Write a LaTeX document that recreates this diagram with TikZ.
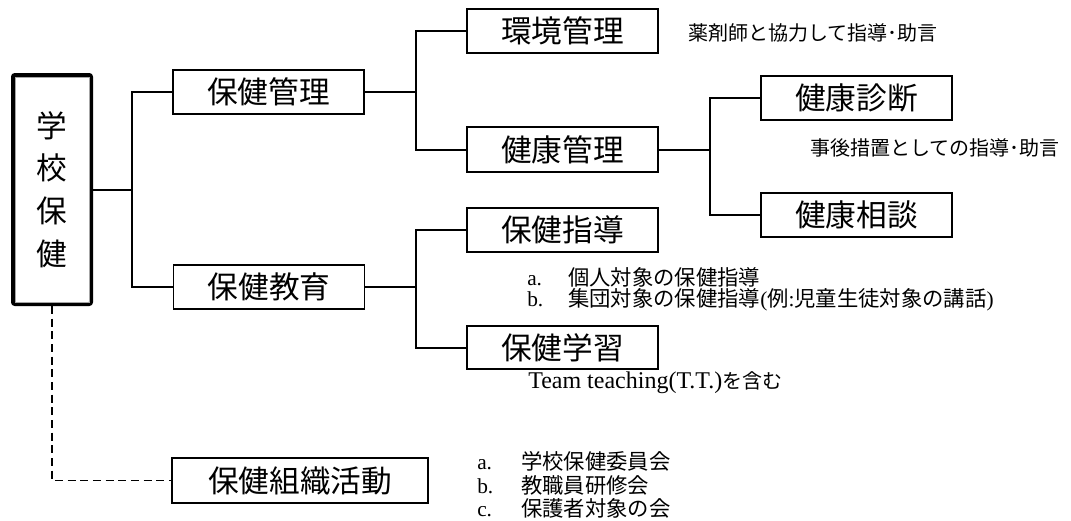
\documentclass[tikz,border=0pt]{standalone}
\usepackage{fontspec}
\setmainfont{Liberation Serif}
\newfontfamily\cjk{Noto Sans CJK JP}
\begin{document}
\begin{tikzpicture}[x=0.75pt,y=-0.75pt,
  box/.style={draw, line width=1.1pt, inner sep=0pt, minimum width=143.25pt, minimum height=33pt, font=\cjk\fontsize{23}{24}\selectfont},
  mainbox/.style={draw, line width=3pt, rounded corners=1.5pt, inner sep=0pt, minimum width=58.5pt, minimum height=171.75pt, align=center, font=\cjk\fontsize{23}{24}\selectfont},
  link/.style={line width=1.5pt},
  dlink/.style={line width=1.4pt, dash pattern=on 6pt off 3.5pt},
  note/.style={anchor=west, inner sep=0pt, font=\cjk\fontsize{15}{18}\selectfont},
  listline/.style={anchor=west, inner sep=0pt, font=\cjk\fontsize{16}{18}\selectfont}]
\useasboundingbox (0,0) rectangle (1071,521);

% main box
\node[mainbox] (main) at (52,189.5) {学\\[8pt]校\\[8pt]保\\[8pt]健};
\draw[gray!70, line width=0.6pt] ([shift={(4,4)}]main.north west) rectangle ([shift={(-4,-4)}]main.south east);

% boxes
\node[box] (kanri) at (268.5,92) {保健管理};
\node[box] (kyoiku) at (269,287) {保健教育};
\node[box] (kankyo) at (562.5,31) {環境管理};
\node[box, minimum height=33.75pt] (kenko) at (562.5,149.5) {健康管理};
\node[box] (shindan) at (856.5,98) {健康診断};
\node[box] (sodan) at (856.5,215) {健康相談};
\node[box] (shido) at (562.5,230) {保健指導};
\node[box, minimum height=32.25pt] (gakushu) at (562.5,347.5) {保健学習};
\node[box, minimum width=192pt, minimum height=33.75pt] (soshiki) at (300,480.5) {保健組織活動};

% junction x positions
\coordinate (j1) at (132,0);
\coordinate (j2) at (416,0);
\coordinate (j3) at (710,0);

% connectors
\draw[link] (main.east) -- (main.east -| j1);
\draw[link] (kanri.west) -- (kanri.west -| j1) -- (kyoiku.west -| j1) -- (kyoiku.west);
\draw[link] (kanri.east) -- (kanri.east -| j2);
\draw[link] (kankyo.west) -- (kankyo.west -| j2) -- (kenko.west -| j2) -- (kenko.west);
\draw[link] (kenko.east) -- (kenko.east -| j3);
\draw[link] (shindan.west) -- (shindan.west -| j3) -- (sodan.west -| j3) -- (sodan.west);
\draw[link] (kyoiku.east) -- (kyoiku.east -| j2);
\draw[link] (shido.west) -- (shido.west -| j2) -- (gakushu.west -| j2) -- (gakushu.west);
\draw[dlink] (main.south) |- (soshiki.west);

% notes
\node[note] (n1) at (688,33) {薬剤師と協力して指導･助言};
\node[note] (n2) at (810,148) {事後措置としての指導･助言};
\node[listline] (l1) at (527,277) {\makebox[30.75pt][l]{\rmfamily a.}個人対象の保健指導};
\node[listline] (l2) at (527,300) {\makebox[30.75pt][l]{\rmfamily b.}集団対象の保健指導{\rmfamily (}例{\rmfamily :}児童生徒対象の講話{\rmfamily )}};
\node[note] (tt) at (528,383) {{\rmfamily\fontsize{18}{18}\selectfont Team teaching(T.T.)}を含む};
\node[listline] (o1) at (477,461) {\makebox[33pt][l]{\rmfamily a.}学校保健委員会};
\node[listline] (o2) at (477,485) {\makebox[33pt][l]{\rmfamily b.}教職員研修会};
\node[listline] (o3) at (477,508) {\makebox[33pt][l]{\rmfamily c.}保護者対象の会};
\end{tikzpicture}
\end{document}
